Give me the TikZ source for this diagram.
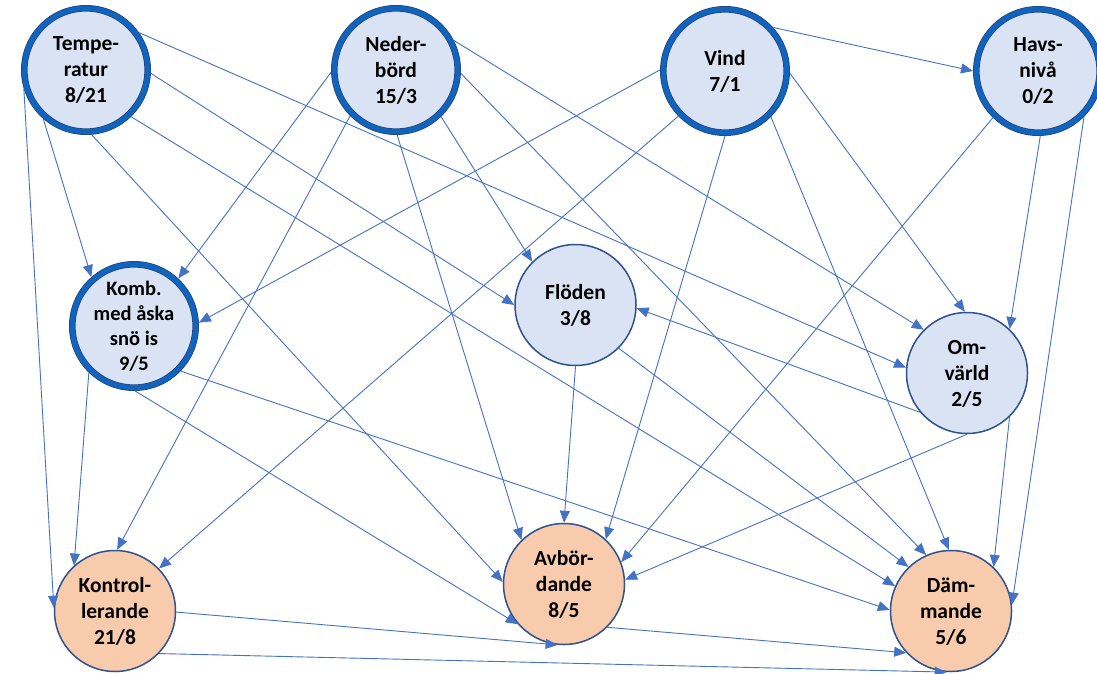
\documentclass[tikz,border=0pt]{standalone}
\usepackage{fontspec}
\setmainfont{Carlito}
\usetikzlibrary{arrows.meta}
\definecolor{nodefill}{HTML}{DAE3F3}
\definecolor{peach}{HTML}{F8CBAD}
\definecolor{rim}{HTML}{1064BE}
\definecolor{rimedge}{HTML}{24467E}
\definecolor{thinrim}{HTML}{2F528F}
\definecolor{edgeblue}{HTML}{4472C4}
\begin{document}
\begin{tikzpicture}[x=1pt,y=-1pt,
  base/.style={circle, inner sep=-25pt, align=center, text depth=0pt,
    font=\bfseries\fontsize{21.5}{26}\selectfont},
  driver/.style={base, minimum size=123.4pt, outer sep=3.3pt, fill=nodefill,
    draw=rimedge, line width=0.8pt, double=rim, double distance=5pt},
  mid/.style={base, minimum size=121pt, outer sep=0.75pt, fill=nodefill,
    draw=thinrim, line width=1.5pt},
  effect/.style={mid, fill=peach},
  link/.style={draw=edgeblue, line width=0.9pt,
    -{Triangle[length=12pt,width=10pt]}}]

\path[fill=white, use as bounding box] (0,0) rectangle (1097,674);

% factors
\node[driver] (T) at (86,70) {Tempe-\\ratur\\8/21};
\node[driver] (N) at (396,70) {Neder-\\börd\\15/3};
\node[driver] (V) at (725,71) {Vind\\7/1};
\node[driver] (H) at (1038,71) {Havs-\\nivå\\0/2};
\node[driver, font=\bfseries\fontsize{20.5}{25}\selectfont] (K) at (134,326)
  {Komb.\\med åska\\snö is\\9/5};
\node[mid] (F) at (575.5,305) {Flöden\\3/8};
\node[mid] (O) at (967,373) {Om-\\värld\\2/5};
% outcomes
\node[effect] (C) at (115,611) {Kontrol-\\lerande\\21/8};
\node[effect] (A) at (564,584) {Avbör-\\dande\\8/5};
\node[effect] (D) at (951,611) {Däm-\\mande\\5/6};

% Temperatur
\draw[link] (T.35)  -- (O.175);
\draw[link] (T.357) -- (F.180);
\draw[link] (T.314) -- (D.156);
\draw[link] (T.275) -- (A.178);
\draw[link] (T.229) -- (K.131);
\draw[link] (T.197) -- (C.177);
% Nederbörd
\draw[link] (N.182) -- (K.47);
\draw[link] (N.225) -- (C.88);
\draw[link] (N.271) -- (A.134);
\draw[link] (N.314) -- (F.135);
\draw[link] (N.27)  -- (O.135);
\draw[link] (N.357) -- (D.114);
% Vind
\draw[link] (V.179) -- (K.3);
\draw[link] (V.224) -- (C.44);
\draw[link] (V.270) -- (A.47);
\draw[link] (V.315) -- (D.92);
\draw[link] (V.358) -- (O.92);
\draw[link] (V.42)  -- (H.180);
% Havsnivå
\draw[link] (H.272) -- (O.46);
\draw[link] (H.315) -- (D.6);
\draw[link] (H.226) -- (A.21);
% Komb. med åska snö is
\draw[link] (K.226) -- (C.132);
\draw[link] (K.271) -- (A.221);
\draw[link] (K.316) -- (D.179);
% Flöden
\draw[link] (F.270) -- (A.90);
\draw[link] (F.315) -- (D.134);
% Omvärld
\draw[link] (O.220) -- (F.357);
\draw[link] (O.270) -- (A.4);
\draw[link] (O.314) -- (D.46);
% Kontrollerande, Avbördande
\draw[link] (C.359) -- (A.264);
\draw[link] (C.316) -- (D.266);
\draw[link] (A.315) -- (D.223);
\end{tikzpicture}
\end{document}
